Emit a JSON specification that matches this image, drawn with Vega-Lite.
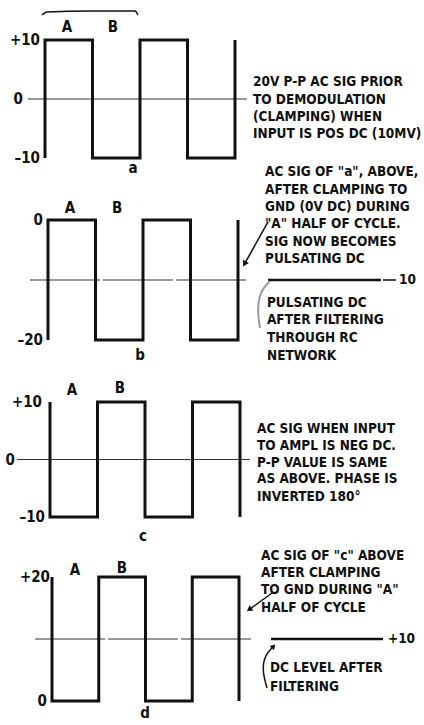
{
  "$schema": "https://vega.github.io/schema/vega-lite/v6.json",
  "background": "white",
  "padding": 0,
  "spacing": 0,
  "bounds": "flush",
  "config": {
    "view": {"stroke": null},
    "text": {"font": "Liberation Sans Narrow, DejaVu Sans Condensed, sans-serif", "fontSize": 13.5, "fontWeight": "bold", "color": "#111"},
    "line": {"color": "#111"},
    "point": {"color": "#111"}
  },
  "datasets": {
    "pa": [
      {"kind": "wave", "i": 0, "t": 0, "v": -10}, {"kind": "wave", "i": 1, "t": 0, "v": 10},
      {"kind": "wave", "i": 2, "t": 1, "v": 10}, {"kind": "wave", "i": 3, "t": 1, "v": -10},
      {"kind": "wave", "i": 4, "t": 2, "v": -10}, {"kind": "wave", "i": 5, "t": 2, "v": 10},
      {"kind": "wave", "i": 6, "t": 3, "v": 10}, {"kind": "wave", "i": 7, "t": 3, "v": -10},
      {"kind": "wave", "i": 8, "t": 4, "v": -10}, {"kind": "wave", "i": 9, "t": 4, "v": 10},
      {"kind": "ref", "i": 0, "t": -0.36, "v": 0}, {"kind": "ref", "i": 1, "t": 4.25, "v": 0},
      {"kind": "brace", "i": 0, "t": -0.063, "v": 14.24}, {"kind": "brace", "i": 1, "t": 0.042, "v": 14.75},
      {"kind": "brace", "i": 2, "t": 0.947, "v": 14.92}, {"kind": "brace", "i": 3, "t": 1.895, "v": 14.92},
      {"kind": "brace", "i": 4, "t": 1.958, "v": 14.24},
      {"kind": "tick", "t": -0.105, "v": 10, "label": "+10"},
      {"kind": "tick", "t": -0.463, "v": 0, "label": "0"},
      {"kind": "tick", "t": -0.105, "v": -10, "label": "–10"},
      {"kind": "half", "t": 0.463, "v": 12.2, "label": "A"},
      {"kind": "half", "t": 1.43, "v": 12.2, "label": "B"},
      {"kind": "name", "t": 1.853, "v": -11.7, "label": "a"},
      {"kind": "note", "t": 4.379, "v": 2.88, "label": "20V P-P AC SIG PRIOR"},
      {"kind": "note", "t": 4.379, "v": -0.17, "label": "TO DEMODULATION"},
      {"kind": "note", "t": 4.379, "v": -3.05, "label": "(CLAMPING) WHEN"},
      {"kind": "note", "t": 4.379, "v": -5.93, "label": "INPUT IS POS DC (10MV)"}
    ],
    "pb": [
      {"kind": "wave", "i": 0, "t": 0, "v": -20}, {"kind": "wave", "i": 1, "t": 0, "v": 0},
      {"kind": "wave", "i": 2, "t": 1, "v": 0}, {"kind": "wave", "i": 3, "t": 1, "v": -20},
      {"kind": "wave", "i": 4, "t": 2, "v": -20}, {"kind": "wave", "i": 5, "t": 2, "v": 0},
      {"kind": "wave", "i": 6, "t": 3, "v": 0}, {"kind": "wave", "i": 7, "t": 3, "v": -20},
      {"kind": "wave", "i": 8, "t": 4, "v": -20}, {"kind": "wave", "i": 9, "t": 4, "v": 0},
      {"kind": "ref", "i": 0, "t": -0.379, "v": -10}, {"kind": "ref", "i": 1, "t": 4.21, "v": -10},
      {"kind": "tick", "t": -0.105, "v": 0, "label": "0"},
      {"kind": "tick", "t": -0.105, "v": -20, "label": "–20"},
      {"kind": "half", "t": 0.463, "v": 2, "label": "A"},
      {"kind": "half", "t": 1.453, "v": 2, "label": "B"},
      {"kind": "name", "t": 1.937, "v": -22.5, "label": "b"},
      {"kind": "note", "t": 4.568, "v": 8, "label": "AC SIG OF \"a\", ABOVE,"},
      {"kind": "note", "t": 4.568, "v": 5, "label": "AFTER CLAMPING TO"},
      {"kind": "note", "t": 4.568, "v": 2.17, "label": "GND (0V DC) DURING"},
      {"kind": "note", "t": 4.568, "v": -0.67, "label": "\"A\" HALF OF CYCLE."},
      {"kind": "note", "t": 4.568, "v": -3.67, "label": "SIG NOW BECOMES"},
      {"kind": "note", "t": 4.568, "v": -6.5, "label": "PULSATING DC"},
      {"kind": "note", "t": 4.61, "v": -13.83, "label": "PULSATING DC"},
      {"kind": "note", "t": 4.61, "v": -16.67, "label": "AFTER FILTERING"},
      {"kind": "note", "t": 4.61, "v": -19.67, "label": "THROUGH RC"},
      {"kind": "note", "t": 4.61, "v": -22.67, "label": "NETWORK"},
      {"kind": "arrow", "i": 0, "t": 4.632, "v": -0.33}, {"kind": "arrow", "i": 1, "t": 4.147, "v": -7.17},
      {"kind": "head", "t": 4.147, "v": -7.17},
      {"kind": "dc", "i": 0, "t": 4.632, "v": -10}, {"kind": "dc", "i": 1, "t": 7.01, "v": -10},
      {"kind": "dash", "i": 0, "t": 7.053, "v": -10}, {"kind": "dash", "i": 1, "t": 7.326, "v": -10},
      {"kind": "dclabel", "t": 7.389, "v": -10, "label": "10"},
      {"kind": "curve", "i": 0, "t": 4.463, "v": -18}, {"kind": "curve", "i": 1, "t": 4.4, "v": -14.67},
      {"kind": "curve", "i": 2, "t": 4.484, "v": -11.67}, {"kind": "curve", "i": 3, "t": 4.674, "v": -10.17}
    ],
    "pc": [
      {"kind": "wave", "i": 0, "t": 0, "v": 10}, {"kind": "wave", "i": 1, "t": 0, "v": -10},
      {"kind": "wave", "i": 2, "t": 1, "v": -10}, {"kind": "wave", "i": 3, "t": 1, "v": 10},
      {"kind": "wave", "i": 4, "t": 2, "v": 10}, {"kind": "wave", "i": 5, "t": 2, "v": -10},
      {"kind": "wave", "i": 6, "t": 3, "v": -10}, {"kind": "wave", "i": 7, "t": 3, "v": 10},
      {"kind": "wave", "i": 8, "t": 4, "v": 10}, {"kind": "wave", "i": 9, "t": 4, "v": -10},
      {"kind": "ref", "i": 0, "t": -0.695, "v": 0}, {"kind": "ref", "i": 1, "t": 4.21, "v": 0},
      {"kind": "tick", "t": -0.168, "v": 10, "label": "+10"},
      {"kind": "tick", "t": -0.737, "v": 0, "label": "0"},
      {"kind": "tick", "t": -0.105, "v": -10, "label": "–10"},
      {"kind": "half", "t": 0.463, "v": 12.09, "label": "A"},
      {"kind": "half", "t": 1.474, "v": 12.43, "label": "B"},
      {"kind": "name", "t": 1.958, "v": -13.3, "label": "c"},
      {"kind": "note", "t": 4.358, "v": 5.3, "label": "AC SIG WHEN INPUT"},
      {"kind": "note", "t": 4.358, "v": 2.35, "label": "TO AMPL IS NEG DC."},
      {"kind": "note", "t": 4.358, "v": -0.61, "label": "P-P VALUE IS SAME"},
      {"kind": "note", "t": 4.358, "v": -3.39, "label": "AS ABOVE. PHASE IS"},
      {"kind": "note", "t": 4.358, "v": -6.52, "label": "INVERTED 180°"}
    ],
    "pd": [
      {"kind": "wave", "i": 0, "t": 0, "v": 20}, {"kind": "wave", "i": 1, "t": 0, "v": 0},
      {"kind": "wave", "i": 2, "t": 1, "v": 0}, {"kind": "wave", "i": 3, "t": 1, "v": 20},
      {"kind": "wave", "i": 4, "t": 2, "v": 20}, {"kind": "wave", "i": 5, "t": 2, "v": 0},
      {"kind": "wave", "i": 6, "t": 3, "v": 0}, {"kind": "wave", "i": 7, "t": 3, "v": 20},
      {"kind": "wave", "i": 8, "t": 4, "v": 20}, {"kind": "wave", "i": 9, "t": 4, "v": 0},
      {"kind": "ref", "i": 0, "t": -0.364, "v": 10}, {"kind": "ref", "i": 1, "t": 4.278, "v": 10},
      {"kind": "tick", "t": -0.043, "v": 20, "label": "+20"},
      {"kind": "tick", "t": -0.107, "v": 0, "label": "0"},
      {"kind": "half", "t": 0.492, "v": 21.1, "label": "A"},
      {"kind": "half", "t": 1.497, "v": 21.45, "label": "B"},
      {"kind": "name", "t": 1.989, "v": -1.94, "label": "d"},
      {"kind": "note", "t": 4.471, "v": 23.39, "label": "AC SIG OF \"c\" ABOVE"},
      {"kind": "note", "t": 4.471, "v": 20.65, "label": "AFTER CLAMPING"},
      {"kind": "note", "t": 4.471, "v": 17.9, "label": "TO GND DURING \"A\""},
      {"kind": "note", "t": 4.471, "v": 15.0, "label": "HALF OF CYCLE"},
      {"kind": "note", "t": 4.663, "v": 5.32, "label": "DC LEVEL AFTER"},
      {"kind": "note", "t": 4.663, "v": 2.26, "label": "FILTERING"},
      {"kind": "arrow", "i": 0, "t": 4.706, "v": 17.42}, {"kind": "arrow", "i": 1, "t": 4.235, "v": 14.84},
      {"kind": "head", "t": 4.235, "v": 14.84},
      {"kind": "dc", "i": 0, "t": 4.684, "v": 10}, {"kind": "dc", "i": 1, "t": 7.08, "v": 10},
      {"kind": "dclabel", "t": 7.187, "v": 10, "label": "+10"},
      {"kind": "curve", "i": 0, "t": 4.599, "v": 2.1}, {"kind": "curve", "i": 1, "t": 4.492, "v": 5.0},
      {"kind": "curve", "i": 2, "t": 4.556, "v": 7.42}, {"kind": "curve", "i": 3, "t": 4.727, "v": 8.71},
      {"kind": "head2", "t": 4.727, "v": 8.71}
    ]
  },
  "vconcat": [
    {
      "width": 424, "height": 180,
      "data": {"name": "pa"},
      "encoding": {
        "x": {"field": "t", "type": "quantitative", "axis": null, "scale": {"domain": [0, 4], "range": [45, 235], "nice": false, "zero": false}},
        "y": {"field": "v", "type": "quantitative", "axis": null, "scale": {"domain": [-10, 10], "range": [158, 40], "nice": false, "zero": false}}
      },
      "layer": [
        {"transform": [{"filter": "datum.kind === 'ref'"}], "mark": {"type": "line", "strokeWidth": 1, "color": "#333"}, "encoding": {"order": {"field": "i"}}},
        {"transform": [{"filter": "datum.kind === 'wave'"}], "mark": {"type": "line", "strokeWidth": 3, "strokeJoin": "miter", "strokeCap": "butt"}, "encoding": {"order": {"field": "i"}}},
        {"transform": [{"filter": "datum.kind === 'brace'"}], "mark": {"type": "line", "strokeWidth": 1.5, "interpolate": "monotone"}, "encoding": {"order": {"field": "i"}}},
        {"transform": [{"filter": "datum.kind === 'tick'"}], "mark": {"type": "text", "align": "right", "baseline": "middle", "fontSize": 15}, "encoding": {"text": {"field": "label"}}},
        {"transform": [{"filter": "datum.kind === 'half' || datum.kind === 'name'"}], "mark": {"type": "text", "align": "center", "baseline": "middle", "fontSize": 15}, "encoding": {"text": {"field": "label"}}},
        {"transform": [{"filter": "datum.kind === 'note'"}], "mark": {"type": "text", "align": "left", "baseline": "middle"}, "encoding": {"text": {"field": "label"}}}
      ]
    },
    {
      "width": 424, "height": 200,
      "data": {"name": "pb"},
      "encoding": {
        "x": {"field": "t", "type": "quantitative", "axis": null, "scale": {"domain": [0, 4], "range": [48, 238], "nice": false, "zero": false}},
        "y": {"field": "v", "type": "quantitative", "axis": null, "scale": {"domain": [-20, 0], "range": [160, 40], "nice": false, "zero": false}}
      },
      "layer": [
        {"transform": [{"filter": "datum.kind === 'ref'"}], "mark": {"type": "line", "strokeWidth": 1, "color": "#333", "strokeDash": [70, 3]}, "encoding": {"order": {"field": "i"}}},
        {"transform": [{"filter": "datum.kind === 'wave'"}], "mark": {"type": "line", "strokeWidth": 3, "strokeJoin": "miter", "strokeCap": "butt"}, "encoding": {"order": {"field": "i"}}},
        {"transform": [{"filter": "datum.kind === 'arrow'"}], "mark": {"type": "line", "strokeWidth": 1.5}, "encoding": {"order": {"field": "i"}}},
        {"transform": [{"filter": "datum.kind === 'head'"}], "mark": {"type": "point", "shape": "triangle", "filled": true, "size": 45, "angle": 209, "opacity": 1}},
        {"transform": [{"filter": "datum.kind === 'dc'"}], "mark": {"type": "line", "strokeWidth": 2.5}, "encoding": {"order": {"field": "i"}}},
        {"transform": [{"filter": "datum.kind === 'dash'"}], "mark": {"type": "line", "strokeWidth": 1.5}, "encoding": {"order": {"field": "i"}}},
        {"transform": [{"filter": "datum.kind === 'curve'"}], "mark": {"type": "line", "strokeWidth": 2, "color": "#999", "interpolate": "basis"}, "encoding": {"order": {"field": "i"}}},
        {"transform": [{"filter": "datum.kind === 'tick'"}], "mark": {"type": "text", "align": "right", "baseline": "middle", "fontSize": 15}, "encoding": {"text": {"field": "label"}}},
        {"transform": [{"filter": "datum.kind === 'half' || datum.kind === 'name'"}], "mark": {"type": "text", "align": "center", "baseline": "middle", "fontSize": 15}, "encoding": {"text": {"field": "label"}}},
        {"transform": [{"filter": "datum.kind === 'note' || datum.kind === 'dclabel'"}], "mark": {"type": "text", "align": "left", "baseline": "middle"}, "encoding": {"text": {"field": "label"}}}
      ]
    },
    {
      "width": 424, "height": 170,
      "data": {"name": "pc"},
      "encoding": {
        "x": {"field": "t", "type": "quantitative", "axis": null, "scale": {"domain": [0, 4], "range": [50, 240], "nice": false, "zero": false}},
        "y": {"field": "v", "type": "quantitative", "axis": null, "scale": {"domain": [-10, 10], "range": [137, 22], "nice": false, "zero": false}}
      },
      "layer": [
        {"transform": [{"filter": "datum.kind === 'ref'"}], "mark": {"type": "line", "strokeWidth": 1, "color": "#333"}, "encoding": {"order": {"field": "i"}}},
        {"transform": [{"filter": "datum.kind === 'wave'"}], "mark": {"type": "line", "strokeWidth": 3, "strokeJoin": "miter", "strokeCap": "butt"}, "encoding": {"order": {"field": "i"}}},
        {"transform": [{"filter": "datum.kind === 'tick'"}], "mark": {"type": "text", "align": "right", "baseline": "middle", "fontSize": 15}, "encoding": {"text": {"field": "label"}}},
        {"transform": [{"filter": "datum.kind === 'half' || datum.kind === 'name'"}], "mark": {"type": "text", "align": "center", "baseline": "middle", "fontSize": 15}, "encoding": {"text": {"field": "label"}}},
        {"transform": [{"filter": "datum.kind === 'note'"}], "mark": {"type": "text", "align": "left", "baseline": "middle"}, "encoding": {"text": {"field": "label"}}}
      ]
    },
    {
      "width": 424, "height": 175,
      "data": {"name": "pd"},
      "encoding": {
        "x": {"field": "t", "type": "quantitative", "axis": null, "scale": {"domain": [0, 4], "range": [52, 239], "nice": false, "zero": false}},
        "y": {"field": "v", "type": "quantitative", "axis": null, "scale": {"domain": [0, 20], "range": [151, 27], "nice": false, "zero": false}}
      },
      "layer": [
        {"transform": [{"filter": "datum.kind === 'ref'"}], "mark": {"type": "line", "strokeWidth": 1, "color": "#333", "strokeDash": [70, 3]}, "encoding": {"order": {"field": "i"}}},
        {"transform": [{"filter": "datum.kind === 'wave'"}], "mark": {"type": "line", "strokeWidth": 3, "strokeJoin": "miter", "strokeCap": "butt"}, "encoding": {"order": {"field": "i"}}},
        {"transform": [{"filter": "datum.kind === 'arrow'"}], "mark": {"type": "line", "strokeWidth": 1.5}, "encoding": {"order": {"field": "i"}}},
        {"transform": [{"filter": "datum.kind === 'head'"}], "mark": {"type": "point", "shape": "triangle", "filled": true, "size": 45, "angle": 234, "opacity": 1}},
        {"transform": [{"filter": "datum.kind === 'dc'"}], "mark": {"type": "line", "strokeWidth": 2.5}, "encoding": {"order": {"field": "i"}}},
        {"transform": [{"filter": "datum.kind === 'curve'"}], "mark": {"type": "line", "strokeWidth": 1.5, "interpolate": "basis"}, "encoding": {"order": {"field": "i"}}},
        {"transform": [{"filter": "datum.kind === 'head2'"}], "mark": {"type": "point", "shape": "triangle", "filled": true, "size": 35, "angle": 45, "opacity": 1}},
        {"transform": [{"filter": "datum.kind === 'tick'"}], "mark": {"type": "text", "align": "right", "baseline": "middle", "fontSize": 15}, "encoding": {"text": {"field": "label"}}},
        {"transform": [{"filter": "datum.kind === 'half' || datum.kind === 'name'"}], "mark": {"type": "text", "align": "center", "baseline": "middle", "fontSize": 15}, "encoding": {"text": {"field": "label"}}},
        {"transform": [{"filter": "datum.kind === 'note' || datum.kind === 'dclabel'"}], "mark": {"type": "text", "align": "left", "baseline": "middle"}, "encoding": {"text": {"field": "label"}}}
      ]
    }
  ]
}
